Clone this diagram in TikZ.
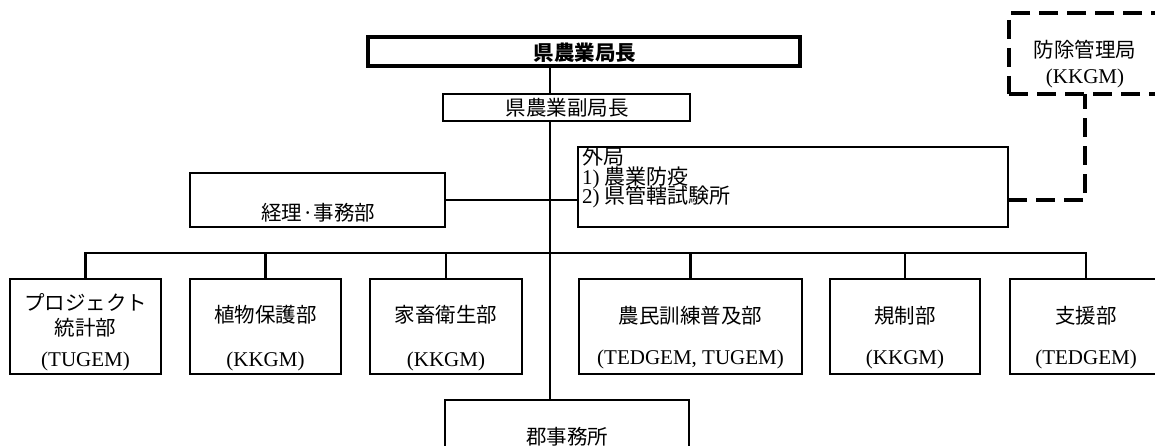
\documentclass[tikz,border=0pt]{standalone}
\usepackage{fontspec}
\setmainfont{Liberation Serif}
\newfontfamily\jp{Noto Sans CJK JP}
\begin{document}
\begin{tikzpicture}[x=1pt,y=-1pt,
  box/.style={draw, line width=2.6pt, fill=white, inner sep=0, outer sep=0, anchor=north west},
  conn/.style={line width=2.6pt},
  dsh/.style={line width=4pt, dash pattern=on 19pt off 9pt},
  jt/.style={font=\jp\fontsize{20.5}{22}\selectfont, inner sep=0},
  et/.style={font=\fontsize{21}{22}\selectfont, inner sep=0},
  mx/.style={font=\fontsize{21}{22}\selectfont, inner sep=0, anchor=base west}]
\useasboundingbox (0,0) rectangle (1155,446);
\clip (0,0) rectangle (1155,446);
\coordinate (sp) at (550,0);
\coordinate (bus) at (0,253);
% boxes (geometry only)
\node[box, line width=4.5pt, fill=none, minimum width=432pt, minimum height=29pt] (top) at (368,37) {};
\node[box, draw=none, fill=none, minimum width=244pt, minimum height=80pt] (gunpos) at (445,400) {};
% spine
\draw[conn] (top.south -| sp) -- (gunpos.north -| sp);
\node[box, minimum width=247pt, minimum height=27pt] (vice) at (443,94) {};
\node[box, minimum width=255pt, minimum height=54pt] (keiri) at (190,173) {};
\node[box, minimum width=430pt, minimum height=80pt] (gai) at (578,147) {};
\node[box, dsh, fill=none, minimum width=152pt, minimum height=81pt] (dbox) at (1009,13) {};
\node[box, minimum width=151pt, minimum height=95pt] (b1) at (10,279) {};
\node[box, minimum width=151pt, minimum height=95pt] (b2) at (190,279) {};
\node[box, minimum width=152pt, minimum height=95pt] (b3) at (370,279) {};
\node[box, minimum width=223pt, minimum height=95pt] (b4) at (579,279) {};
\node[box, minimum width=150pt, minimum height=95pt] (b5) at (830,279) {};
\node[box, minimum width=152pt, minimum height=95pt] (b6) at (1010,279) {};
\node[box, minimum width=244pt, minimum height=80pt] (gun) at (445,400) {};
% connectors
\draw[conn, line width=2pt] (keiri.east) -- (keiri.east -| gai.west);
\draw[conn] (b1.north) -- (b1.north |- bus) -- (b6.north |- bus) -- (b6.north);
\foreach \b in {b2,b3,b4,b5} \draw[conn] (\b.north) -- (\b.north |- bus);
\coordinate (dj) at (0,200);
\draw[dsh] (gai.east |- dj) -| (dbox.south);
% texts
\node[jt, font=\jp\bfseries\fontsize{20.5}{22}\selectfont] (ttop) at (585,53) {県農業局長};
\node[jt] (tvice) at (567,108) {県農業副局長};
\node[jt] (tkeiri) at (318,213) {経理·事務部};
\node[mx] (tg1) at (582,165) {{\jp 外局}};
\node[mx] (tg2) at (582,184.5) {1) {\jp 農業防疫}};
\node[mx] (tg3) at (582,204) {2) {\jp 県管轄試験所}};
\node[jt] (td1) at (1085,50) {防除管理局};
\node[et] (td2) at (1085,78) {(KKGM)};
\node[jt] (t1a) at (85.5,302) {プロジェクト};
\node[jt] (t1b) at (85.5,328) {統計部};
\node[et] (t1c) at (85.5,361) {(TUGEM)};
\node[jt] (t2a) at (265.5,315) {植物保護部};
\node[et] (t2b) at (265.5,361) {(KKGM)};
\node[jt] (t3a) at (446,315) {家畜衛生部};
\node[et] (t3b) at (446,361) {(KKGM)};
\node[jt] (t4a) at (690.5,316) {農民訓練普及部};
\node[et] (t4b) at (690.5,359) {(TEDGEM, TUGEM)};
\node[jt] (t5a) at (905,316) {規制部};
\node[et] (t5b) at (905,359) {(KKGM)};
\node[jt] (t6a) at (1086,316) {支援部};
\node[et] (t6b) at (1086,359) {(TEDGEM)};
\node[jt] (tgun) at (567,437) {郡事務所};
\end{tikzpicture}
\end{document}
